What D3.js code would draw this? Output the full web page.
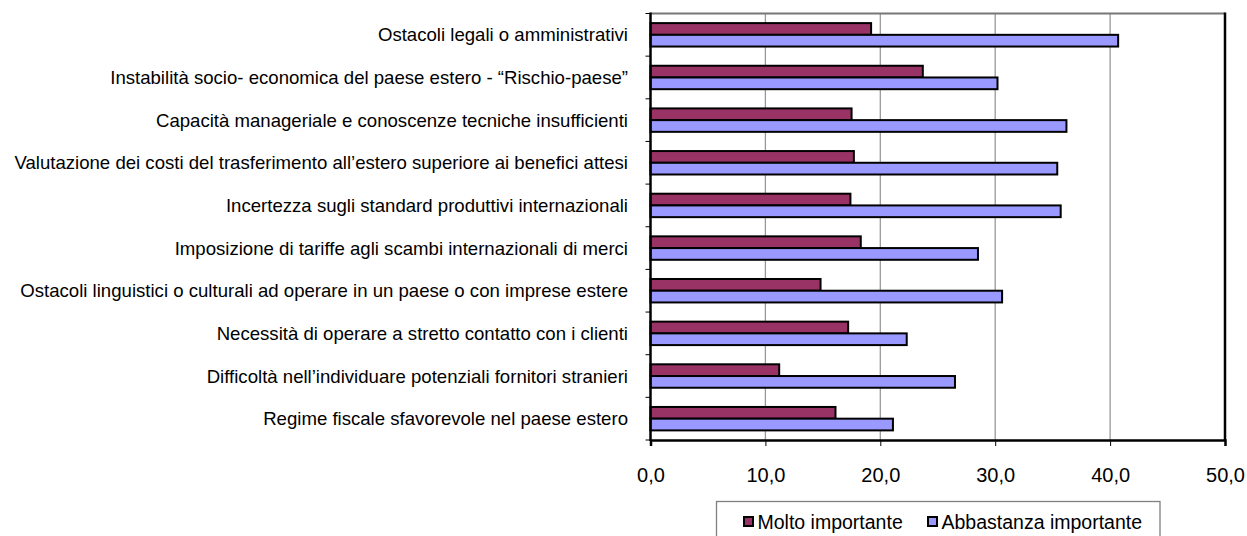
<!DOCTYPE html>
<html><head><meta charset="utf-8">
<script src="https://cdn.jsdelivr.net/npm/d3@7"></script>
<style>body{margin:0;background:#fff}svg{display:block}text{font-family:"Liberation Sans",Arial,sans-serif;fill:#000}</style>
</head><body><svg id="c" width="1247" height="536"></svg>
<script>
const categories = [
"Ostacoli legali o amministrativi",
"Instabilità socio- economica del paese estero - “Rischio-paese”",
"Capacità manageriale e conoscenze tecniche insufficienti",
"Valutazione dei costi del trasferimento all’estero superiore ai benefici attesi",
"Incertezza sugli standard produttivi internazionali",
"Imposizione di tariffe agli scambi internazionali di merci",
"Ostacoli linguistici o culturali ad operare in un paese o con imprese estere",
"Necessità di operare a stretto contatto con i clienti",
"Difficoltà nell’individuare potenziali fornitori stranieri",
"Regime fiscale sfavorevole nel paese estero"];
const seriesNames = ["Molto importante","Abbastanza importante"];
const molto = [19.2,23.7,17.5,17.7,17.4,18.3,14.8,17.2,11.2,16.1];
const abbastanza = [40.7,30.2,36.2,35.4,35.7,28.5,30.6,22.3,26.5,21.1];
const xTicks = [0,10,20,30,40,50];
const colors = ["#993366","#9999FF"];

const svg = d3.select("#c");
const L=650.5,R=1225,T=13.5,B=440;
const x = d3.scaleLinear().domain([0,50]).range([L,R]);
const y = d3.scaleBand().domain(categories).range([T,B]);
const ys = d3.scaleBand().domain(seriesNames).range([0,y.bandwidth()]).paddingOuter(0.82);
const fmt = d => d.toFixed(1).replace(".",",");

// gridlines
svg.append("g").selectAll("line").data(xTicks.slice(1,-1)).join("line")
  .attr("x1",d=>x(d)).attr("x2",d=>x(d)).attr("y1",T).attr("y2",B)
  .attr("stroke","#999").attr("stroke-width",1.3);

// top/right plot border
svg.append("line").attr("x1",L).attr("x2",R).attr("y1",T).attr("y2",T).attr("stroke","#777").attr("stroke-width",2);
svg.append("line").attr("x1",R).attr("x2",R).attr("y1",T-1).attr("y2",B).attr("stroke","#000").attr("stroke-width",2.5);

// bars
const data = [];
categories.forEach((c,i)=>{data.push({c,s:seriesNames[0],v:molto[i],k:0});data.push({c,s:seriesNames[1],v:abbastanza[i],k:1});});
svg.append("g").selectAll("rect").data(data).join("rect")
  .attr("x",x(0)).attr("y",d=>y(d.c)+ys(d.s)).attr("width",d=>x(d.v)-x(0)).attr("height",ys.bandwidth())
  .attr("fill",d=>colors[d.k]).attr("stroke","#000").attr("stroke-width",2);

// x axis
const xa = svg.append("g").attr("transform",`translate(0,${B})`)
  .call(d3.axisBottom(x).tickValues(xTicks).tickFormat(fmt).tickSize(6).tickPadding(22));
xa.select(".domain").attr("stroke","#000").attr("stroke-width",2.5);
xa.selectAll(".tick line").attr("stroke","#000");
xa.selectAll("text").attr("font-size",20).attr("fill","#000").attr("font-family","Liberation Sans, Arial, sans-serif");

// y axis
const bounds = categories.map(c=>y(c)).concat([B]);
svg.append("line").attr("x1",L).attr("x2",L).attr("y1",T-1).attr("y2",B+1).attr("stroke","#000").attr("stroke-width",2.5);
svg.append("g").selectAll("line").data(bounds).join("line")
  .attr("x1",L-5).attr("x2",L).attr("y1",d=>d).attr("y2",d=>d).attr("stroke","#000");
svg.append("g").selectAll("text").data(categories).join("text")
  .attr("x",628).attr("y",d=>y(d)+y.bandwidth()/2).attr("dy","0.35em")
  .attr("text-anchor","end").attr("font-size",18.6).text(d=>d);

// legend
const lg = svg.append("g");
lg.append("rect").attr("x",716.5).attr("y",501.5).attr("width",443.5).attr("height",45)
  .attr("fill","#fff").attr("stroke","#808080").attr("stroke-width",1.3);
const lx=[743,927];
seriesNames.forEach((s,i)=>{
  lg.append("rect").attr("x",lx[i]+1).attr("y",517).attr("width",9).attr("height",9)
    .attr("fill",colors[i]).attr("stroke","#000").attr("stroke-width",2);
  lg.append("text").attr("x",lx[i]+14.5).attr("y",522).attr("dy","0.35em").attr("font-size",19.5).text(s);
});
</script></body></html>
